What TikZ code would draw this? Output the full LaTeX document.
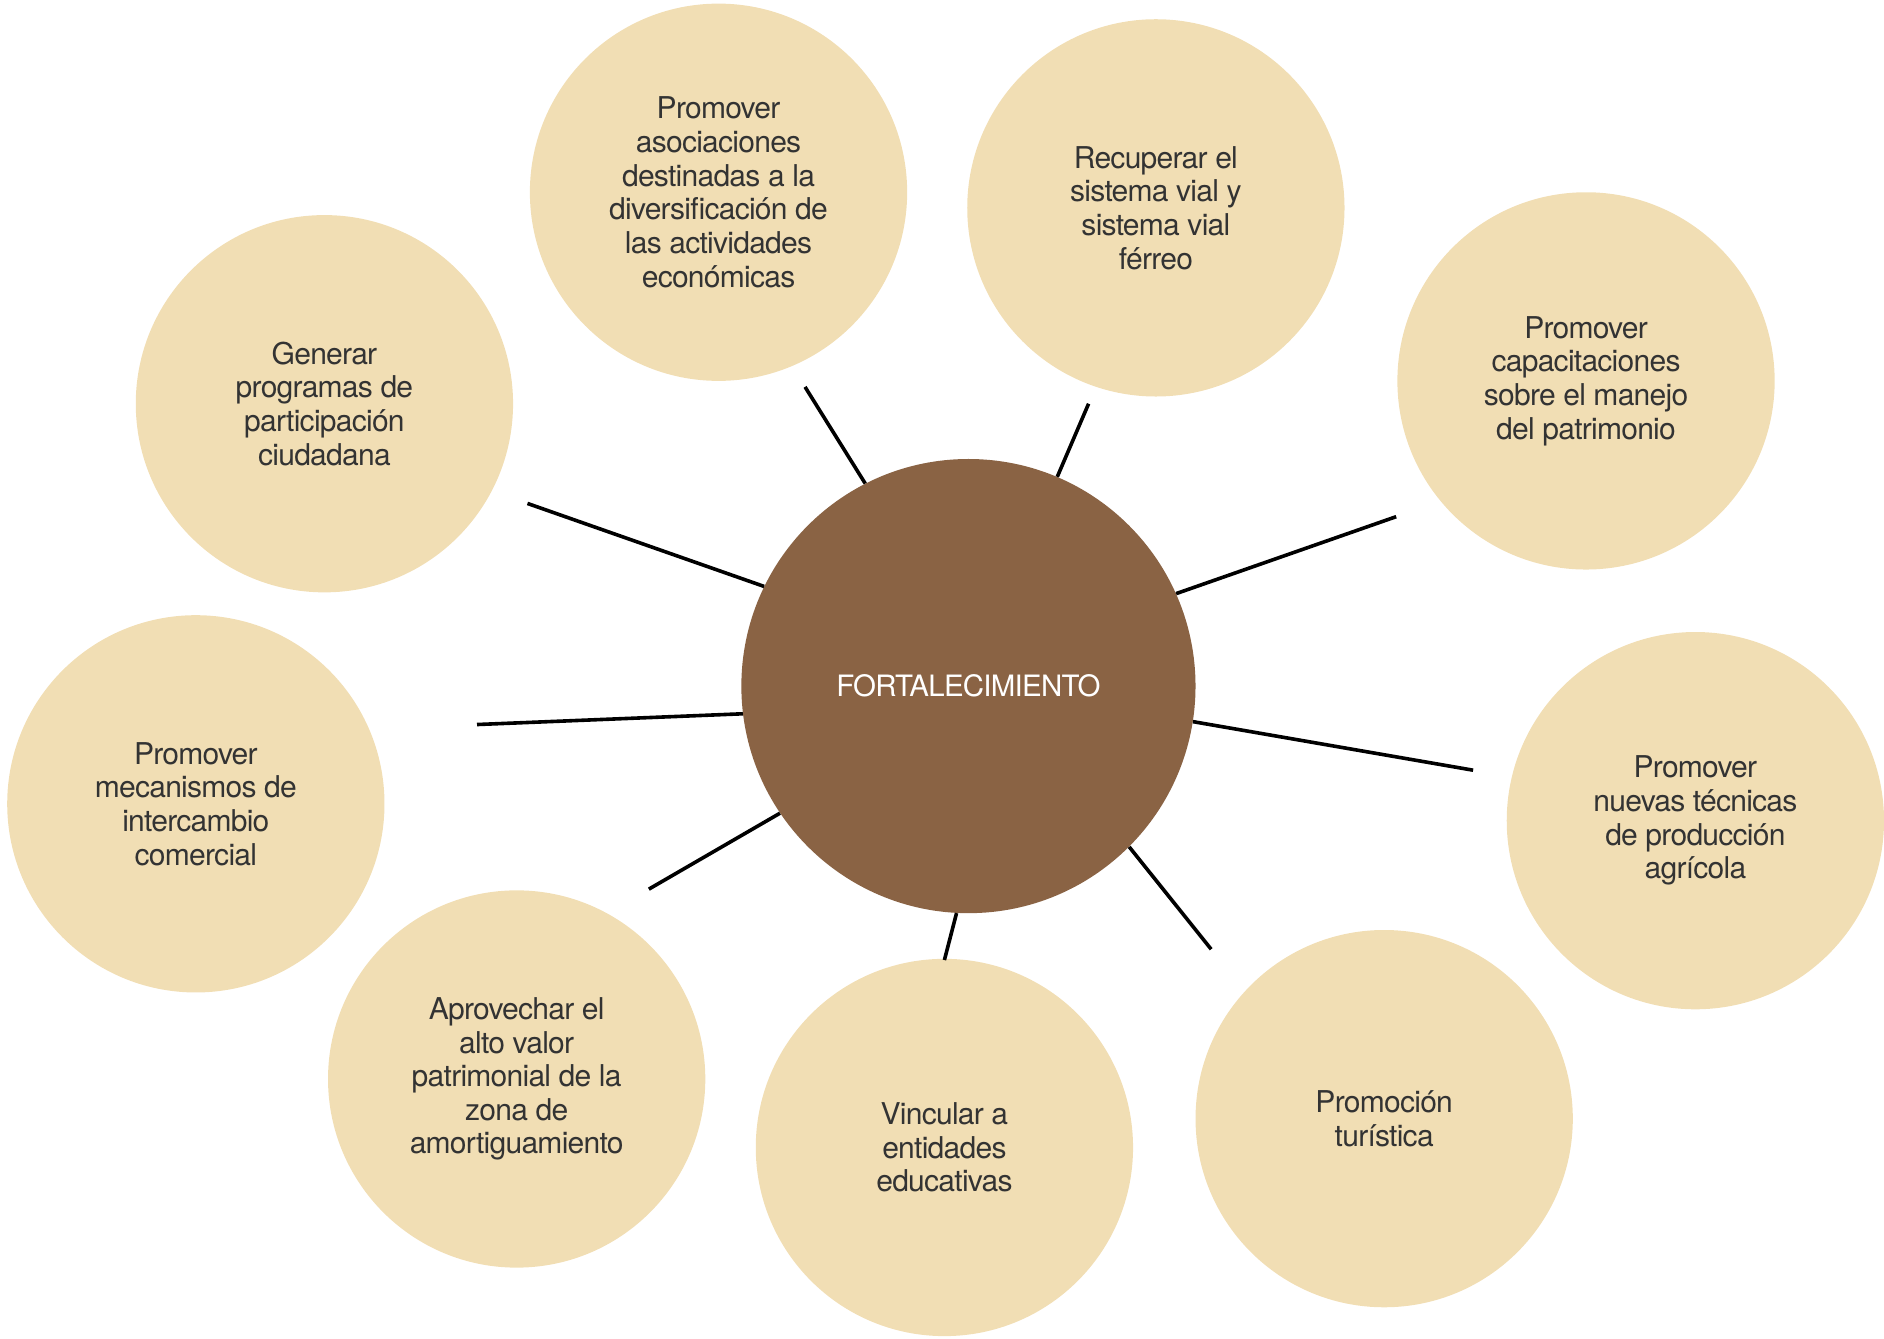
\documentclass[tikz,border=0pt]{standalone}
\usepackage{fontspec}
\setmainfont{TeX Gyre Heros}[LetterSpace=-2.5]
\usepackage{xcolor}
\usetikzlibrary{positioning}
\definecolor{cafe}{HTML}{8A6344}
\definecolor{arena}{HTML}{F1DEB4}
\definecolor{tinta}{HTML}{333333}

\begin{document}
\begin{tikzpicture}[
  x=1pt, y=-1pt,
  hub/.style={circle, fill=cafe, minimum size=378pt, inner sep=0pt, text=white, font=\fontsize{24.5}{28}\selectfont},
  idea/.style={circle, fill=arena, minimum size=314pt, inner sep=0pt, align=center, text=tinta, font=\fontsize{25}{28}\selectfont},
  spoke/.style={line width=3pt, black}
]
\useasboundingbox (0,0) rectangle (1568,1114);
\node[hub] (core) at (806,571) {FORTALECIMIENTO};
\node[idea] (asoc) at (598,160) {Promover\\asociaciones\\destinadas a la\\diversificación de\\las actividades\\económicas};
\node[idea] (vial) at (962,173) {Recuperar el\\sistema vial y\\sistema vial\\férreo};
\node[idea] (capa) at (1320,317) {Promover\\capacitaciones\\sobre el manejo\\del patrimonio};
\node[idea] (agri) at (1411,683) {Promover\\nuevas técnicas\\de producción\\agrícola};
\node[idea] (turi) at (1152,931) {Promoción\\turística};
\node[idea] (educ) at (786,955) {Vincular a\\entidades\\educativas};
\node[idea] (amor) at (430,898) {Aprovechar el\\alto valor\\patrimonial de la\\zona de\\amortiguamiento};
\node[idea] (inte) at (163,669) {Promover\\mecanismos de\\intercambio\\comercial};
\node[idea] (ciud) at (270,336) {Generar\\programas de\\participación\\ciudadana};
% free ends of the spokes
\coordinate (e1) at (670,322);
\coordinate (e2) at (906,336);
\coordinate (e3) at (1162,430);
\coordinate (e4) at (1226,641);
\coordinate (e5) at (1008,790);
\coordinate (e6) at (786,799);
\coordinate (e7) at (540,740);
\coordinate (e8) at (397,603);
\coordinate (e9) at (439,419);
\foreach \a/\e in {117.9/e1,67/e2,24/e3,-9.8/e4,-45.9/e5,-93/e6,214.2/e7,187.6/e8,154.5/e9}
  \draw[spoke] (core.\a) -- (\e);
\end{tikzpicture}
\end{document}
